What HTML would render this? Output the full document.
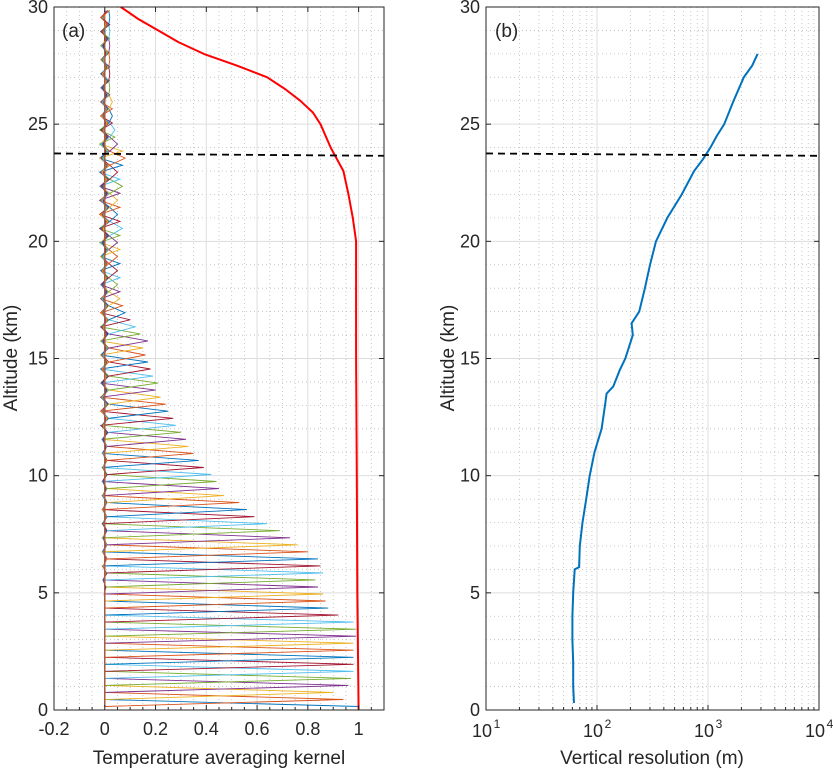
<!DOCTYPE html>
<html><head><meta charset="utf-8"><style>
body{margin:0;background:#fff;}
svg text{font-family:"Liberation Sans",Arial,sans-serif;fill:#262626;}
</style></head><body>
<svg id="c" width="833" height="775" xmlns="http://www.w3.org/2000/svg"></svg>
<script>
// ---- data ----
const kernelAlt = [];
for (let i = 0; i < 100; i++) kernelAlt.push(+(0.15 + i*0.3).toFixed(2));
const kernelPeak = [1.0,0.94,0.9,0.96,0.97,0.98,0.98,0.98,0.98,0.98,0.99,0.99,0.98,0.92,0.88,0.87,0.86,0.84,0.83,0.86,0.85,0.84,0.8,0.76,0.73,0.69,0.64,0.59,0.56,0.53,0.47,0.45,0.44,0.42,0.39,0.37,0.35,0.33,0.32,0.3,0.28,0.27,0.25,0.24,0.22,0.2,0.21,0.19,0.18,0.17,0.16,0.15,0.17,0.14,0.12,0.1,0.08,0.07,0.06,0.06,0.05,0.06,0.05,0.06,0.05,0.06,0.05,0.06,0.07,0.06,0.05,0.06,0.05,0.06,0.07,0.06,0.05,0.07,0.08,0.07,0.05,0.04,0.04,0.03,0.03,0.03,0.03,0.02,0.02,0.02,0.02,0.02,0.02,0.02,0.02,0.02,0.02,0.02,0.02,0.02];
const sideLobe = [0.0,0.012,0.02,0.025,0.02];
const sumAlt = [0,5,10,15,20,21,22,23,24,25,25.5,26,26.5,27,27.5,28,28.5,29,29.5,30];
const sumVal = [1.0,0.995,0.993,0.99,0.99,0.977,0.96,0.94,0.89,0.85,0.82,0.77,0.71,0.64,0.52,0.39,0.29,0.21,0.13,0.063];
const resAlt = [0.3,1,2,3,4,5,6,6.1,7,8,9,10,11,12,13,13.5,13.8,14.5,15,16,16.5,17,18,19,20,21,22,23,23.5,24,24.5,25,26,27,27.5,28];
const resVal = [62,61,61,60,60,61,63,69,70,74,80,86,95,110,118,122,140,160,180,210,205,240,270,300,340,430,580,750,900,1050,1200,1400,1700,2100,2500,2800];
const dashAlt = 23.7;
const xTicksA = [-0.2,0,0.2,0.4,0.6,0.8,1];
const yTicks = [0,5,10,15,20,25,30];
// ---- setup ----
const svg = document.getElementById('c');
const NS = 'http://www.w3.org/2000/svg';
function el(t, a, p){const e=document.createElementNS(NS,t);for(const k in a)e.setAttribute(k,a[k]);(p||svg).appendChild(e);return e;}
const A = {l:54,r:384,t:7,b:710,x0:-0.2,x1:1.1};
const B = {l:486,r:819,t:7,b:710};
const xa = v => A.l + (v-A.x0)/(A.x1-A.x0)*(A.r-A.l);
const xb = v => B.l + (Math.log10(v)-1)/3*(B.r-B.l);
const yA = h => A.b - h/30*(A.b-A.t);
const cols = ['#0072BD','#D95319','#EDB120','#7E2F8E','#77AC30','#4DBEEE','#A2142F'];

function grid(P, xs, xsMinor){
  const g = el('g',{});
  
  
  for(let h=0;h<=30;h++){ if(h%5) el('line',{x1:P.l,x2:P.r,y1:yA(h),y2:yA(h),stroke:'#bbb','stroke-width':0.8,'stroke-dasharray':'1,3'},g);}
  xsMinor.forEach(x=>el('line',{x1:x,x2:x,y1:P.t,y2:P.b,stroke:'#bbb','stroke-width':0.8,'stroke-dasharray':'1,3'},g));
  yTicks.forEach(h=>el('line',{x1:P.l,x2:P.r,y1:yA(h),y2:yA(h),stroke:'#ddd','stroke-width':1},g));
  xs.forEach(x=>el('line',{x1:x,x2:x,y1:P.t,y2:P.b,stroke:'#ddd','stroke-width':1},g));
}
const minA=[];for(let v=-0.2;v<=1.1001;v+=0.05){const r=Math.round(v*100);if(r%20)minA.push(xa(v));}
grid(A, xTicksA.map(xa), minA);
const majB=[100,1000].map(xb);
const minB=[];for(let d=10;d<10000;d*=10)for(let k=2;k<=9;k++)minB.push(xb(d*k));
grid(B, majB, minB);

// kernels
const kg = el('g',{});


kernelAlt.forEach((h,i)=>{
  const pk = kernelPeak[i];
  const lob = h<6?0:(h<12?sideLobe[1]:(h<20?sideLobe[2]:(h<25?sideLobe[3]:sideLobe[4])));
  const pts=[];
  for(let j=0;j<kernelAlt.length;j++){
    let v=0; const d=j-i;
    if(d===0) v=pk;
    else if(Math.abs(d)<=4 && lob>0) v = ((d+i)%2?1:-1)*lob*(1-Math.abs(d)/5);
    pts.push(xa(v).toFixed(1)+','+yA(kernelAlt[j]).toFixed(1));
  }
  const pl = el('polyline',{points:pts.join(' '),fill:'none',stroke:cols[i%7],'stroke-width':0.9},kg);
  
  
});
const red = el('polyline',{points:sumAlt.map((h,i)=>xa(sumVal[i]).toFixed(1)+','+yA(h).toFixed(1)).join(' '),fill:'none',stroke:'#f00','stroke-width':2,'stroke-linejoin':'round'});


const res = el('polyline',{points:resAlt.map((h,i)=>xb(resVal[i]).toFixed(1)+','+yA(h).toFixed(1)).join(' '),fill:'none',stroke:'#0072BD','stroke-width':2});


[A,B].forEach((P,k)=>{
  const d=el('line',{x1:P.l,x2:P.r,y1:yA(dashAlt+0.05),y2:yA(dashAlt-0.05),stroke:'#000','stroke-width':1.8,'stroke-dasharray':'7,5'});
  
  
});

function axes(P, name){
  const g=el('g',{});
  
  
  el('rect',{x:P.l,y:P.t,width:P.r-P.l,height:P.b-P.t,fill:'none',stroke:'#262626','stroke-width':1},g);
  yTicks.forEach(h=>{
    el('line',{x1:P.l,x2:P.l+5,y1:yA(h),y2:yA(h),stroke:'#262626'},g);
    el('line',{x1:P.r,x2:P.r-5,y1:yA(h),y2:yA(h),stroke:'#262626'},g);
    const t=el('text',{x:P.l-6,y:yA(h)+6,'text-anchor':'end','font-size':18},g);t.textContent=h;
  });
  return g;
}
const ga=axes(A,'axes-a');
xTicksA.forEach(v=>{
  el('line',{x1:xa(v),x2:xa(v),y1:A.b,y2:A.b-5,stroke:'#262626'},ga);
  el('line',{x1:xa(v),x2:xa(v),y1:A.t,y2:A.t+5,stroke:'#262626'},ga);
  const t=el('text',{x:xa(v),y:A.b+25,'text-anchor':'middle','font-size':18},ga);t.textContent=v;
});
for(let v=-0.15;v<1.1;v+=0.05){const r=Math.round(v*100);if(r%20)el('line',{x1:xa(v),x2:xa(v),y1:A.b,y2:A.b-3,stroke:'#262626'},ga);}
const gb=axes(B,'axes-b');
[1,2,3,4].forEach(e=>{
  const x=xb(Math.pow(10,e));
  el('line',{x1:x,x2:x,y1:B.b,y2:B.b-5,stroke:'#262626'},gb);
  const t=el('text',{x:x-4,y:B.b+27,'text-anchor':'middle','font-size':18},gb);t.textContent='10';
  const s=el('text',{x:x+11,y:B.b+18,'text-anchor':'middle','font-size':12},gb);s.textContent=e;
});
minB.forEach(x=>el('line',{x1:x,x2:x,y1:B.b,y2:B.b-3,stroke:'#262626'},gb));

function txt(s,a,name){const t=el('text',a);t.textContent=s;return t;}
txt('Temperature averaging kernel',{x:219,y:764,'text-anchor':'middle','font-size':19},'x-axis-title-a');
txt('Vertical resolution (m)',{x:652,y:764,'text-anchor':'middle','font-size':19},'x-axis-title-b');
txt('Altitude (km)',{x:0,y:0,transform:'translate(17,358) rotate(-90)','text-anchor':'middle','font-size':19},'y-axis-title-a');
txt('Altitude (km)',{x:0,y:0,transform:'translate(454,358) rotate(-90)','text-anchor':'middle','font-size':19},'y-axis-title-b');
txt('(a)',{x:62,y:37,'font-size':19},'panel-label-a');
txt('(b)',{x:495,y:37,'font-size':19},'panel-label-b');
</script>
</body></html>
